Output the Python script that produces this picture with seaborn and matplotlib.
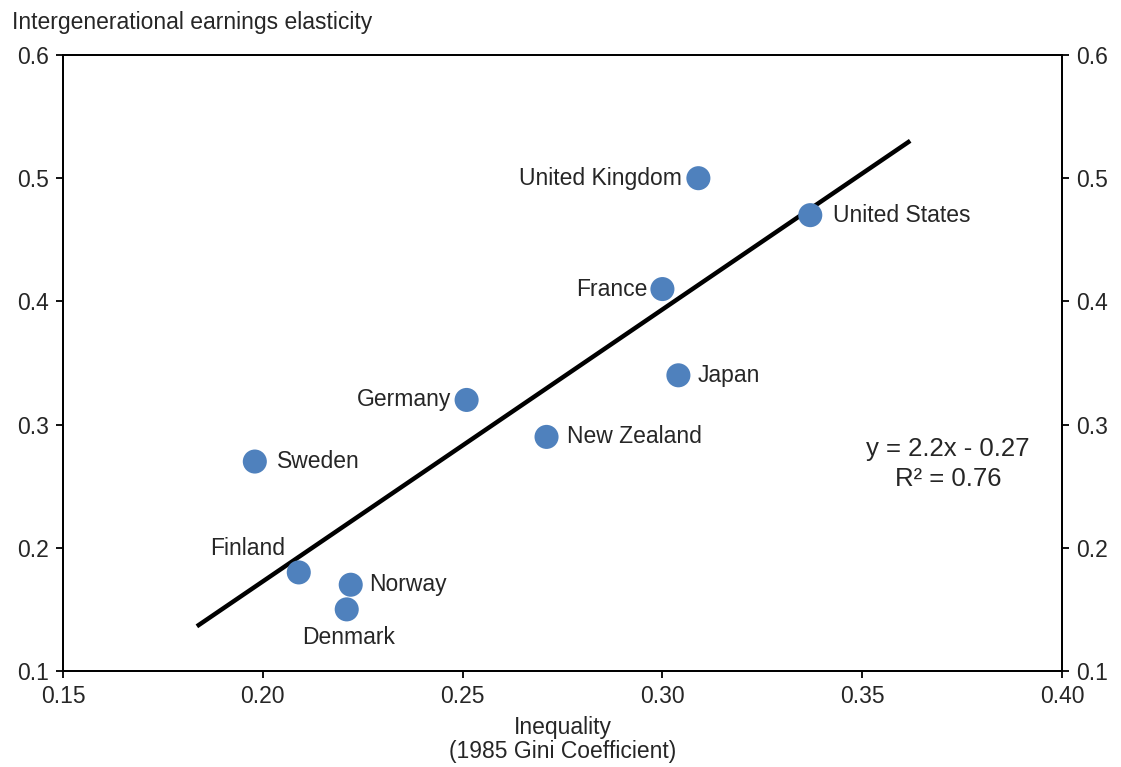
import matplotlib
matplotlib.use("Agg")
import matplotlib.pyplot as plt
import numpy as np
import pandas as pd
import seaborn as sns

# Data
countries = ["United Kingdom", "United States", "France", "Japan", "Germany",
             "New Zealand", "Sweden", "Finland", "Norway", "Denmark"]
gini = [0.309, 0.337, 0.300, 0.304, 0.251, 0.271, 0.198, 0.209, 0.222, 0.221]
elasticity = [0.50, 0.47, 0.41, 0.34, 0.32, 0.29, 0.27, 0.18, 0.17, 0.15]
trend_x_range = [0.1835, 0.362]
x_ticks = [0.15, 0.20, 0.25, 0.30, 0.35, 0.40]
y_ticks = [0.1, 0.2, 0.3, 0.4, 0.5, 0.6]

df = pd.DataFrame({"country": countries, "gini": gini, "elasticity": elasticity})

sns.set_style("ticks")
plt.rcParams["font.family"] = ["Liberation Sans", "DejaVu Sans"]
text_color = "#262626"
fs = 16.5

fig = plt.figure(figsize=(11.21, 7.67), dpi=100)
ax = fig.add_axes([0.0562, 0.1252, 0.8912, 0.8031])

# trend line (linear fit, extended like an Excel trendline)
slope, intercept = np.polyfit(df["gini"], df["elasticity"], 1)
tx = np.array(trend_x_range)
ax.plot(tx, slope * tx + intercept, color="black", lw=3.2, solid_capstyle="butt", zorder=2)

sns.scatterplot(data=df, x="gini", y="elasticity", ax=ax, s=300,
                color="#4F81BD", edgecolor="none", zorder=3, legend=False)

# point labels: (dx, dy) in points, horizontal alignment
offsets = {
    "United Kingdom": (-12, 0, "right"),
    "United States": (16, 0, "left"),
    "France": (-11, 0, "right"),
    "Japan": (14, 0, "left"),
    "Germany": (-11, 0, "right"),
    "New Zealand": (15, 0, "left"),
    "Sweden": (16, 0, "left"),
    "Finland": (-10, 17, "right"),
    "Norway": (13, 0, "left"),
    "Denmark": (1, -20, "center"),
}
for c, x, y in zip(countries, gini, elasticity):
    dx, dy, ha = offsets[c]
    ax.annotate(c, (x, y), xytext=(dx, dy), textcoords="offset points",
                ha=ha, va="center", fontsize=fs, color=text_color)

ax.set_xlim(0.15, 0.40)
ax.set_ylim(0.1, 0.6)
ax.set_xticks(x_ticks)
ax.set_xticklabels([f"{t:.2f}" for t in x_ticks])
ax.set_yticks(y_ticks)
ax.set_yticklabels([f"{t:.1f}" for t in y_ticks])

ax2 = ax.twinx()
ax2.set_ylim(0.1, 0.6)
ax2.set_yticks(y_ticks)
ax2.set_yticklabels([f"{t:.1f}" for t in y_ticks])

for a in (ax, ax2):
    for s in a.spines.values():
        s.set_visible(True)
        s.set_color("black")
        s.set_linewidth(1.3)
    a.tick_params(direction="out", length=5, width=1.3, color="black",
                  labelsize=fs, labelcolor=text_color, pad=5)

ax.set_xlabel("Inequality\n(1985 Gini Coefficient)", fontsize=fs, color=text_color,
              labelpad=6, linespacing=1.05)
ax.set_ylabel("")
fig.text(12 / 1121, 1 - 22 / 767, "Intergenerational earnings elasticity",
         fontsize=fs, color=text_color, ha="left", va="center")

ax.text(0.886, 0.360, f"y = {slope:.1f}x - {abs(intercept):.2f}", transform=ax.transAxes,
        ha="center", va="center", fontsize=18.5, color=text_color)
ax.text(0.886, 0.312, "R² = 0.76", transform=ax.transAxes,
        ha="center", va="center", fontsize=18.5, color=text_color)

fig.savefig("out.png", dpi=100)
